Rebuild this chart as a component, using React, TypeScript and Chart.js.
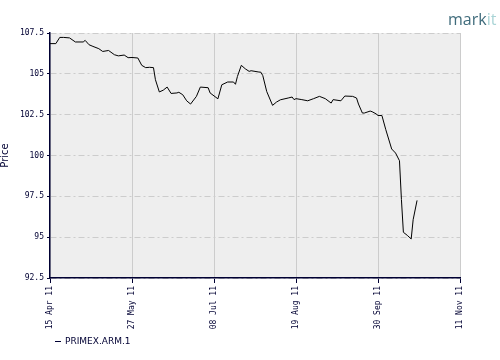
import React, { useEffect, useRef } from "react";
import { Chart, registerables } from "chart.js";

Chart.register(...registerables);

const START_DATE = "2011-04-15";
const dates = [
  "2011-04-15", "2011-04-18", "2011-04-20", "2011-04-22", "2011-04-25", "2011-04-28",
  "2011-05-02", "2011-05-03", "2011-05-05", "2011-05-07", "2011-05-10", "2011-05-12",
  "2011-05-15", "2011-05-18", "2011-05-20", "2011-05-23", "2011-05-25", "2011-05-27",
  "2011-05-30", "2011-06-01", "2011-06-03", "2011-06-05", "2011-06-07", "2011-06-08",
  "2011-06-10", "2011-06-12", "2011-06-14", "2011-06-16", "2011-06-19", "2011-06-20",
  "2011-06-22", "2011-06-24", "2011-06-26", "2011-06-29", "2011-07-01", "2011-07-05",
  "2011-07-06", "2011-07-10", "2011-07-12", "2011-07-15", "2011-07-18", "2011-07-19",
  "2011-07-20", "2011-07-22", "2011-07-24", "2011-07-26", "2011-07-27", "2011-07-31",
  "2011-08-01", "2011-08-02", "2011-08-04", "2011-08-07", "2011-08-09", "2011-08-11",
  "2011-08-15", "2011-08-17", "2011-08-18", "2011-08-19", "2011-08-22", "2011-08-25",
  "2011-08-28", "2011-08-31", "2011-09-03", "2011-09-06", "2011-09-07", "2011-09-11",
  "2011-09-13", "2011-09-17", "2011-09-19", "2011-09-20", "2011-09-22", "2011-09-23",
  "2011-09-26", "2011-09-27", "2011-09-29", "2011-09-30", "2011-10-02", "2011-10-04",
  "2011-10-07", "2011-10-09", "2011-10-11", "2011-10-12", "2011-10-13", "2011-10-15",
  "2011-10-17", "2011-10-18", "2011-10-20",
];
const prices = [
  106.85, 106.85, 107.23, 107.23, 107.2, 106.95,
  106.95, 107.05, 106.78, 106.68, 106.54, 106.37,
  106.43, 106.17, 106.1, 106.15, 105.99, 106.0,
  105.97, 105.52, 105.38, 105.4, 105.38, 104.64,
  103.89, 104.0, 104.19, 103.8, 103.83, 103.87,
  103.72, 103.35, 103.15, 103.62, 104.19, 104.15,
  103.83, 103.47, 104.33, 104.5, 104.5, 104.36,
  104.84, 105.52, 105.31, 105.15, 105.19, 105.11,
  105.1, 104.89, 103.92, 103.07, 103.27, 103.41,
  103.52, 103.58, 103.42, 103.48, 103.42, 103.35,
  103.48, 103.62, 103.48, 103.21, 103.42, 103.35,
  103.64, 103.62, 103.52, 103.15, 102.6, 102.6,
  102.72, 102.68, 102.55, 102.45, 102.45, 101.58,
  100.4, 100.15, 99.68, 97.3, 95.3, 95.11,
  94.89, 96.07, 97.25,
];
const xTickLabels = ["15 Apr 11", "27 May 11", "08 Jul 11", "19 Aug 11", "30 Sep 11", "11 Nov 11"];
const X_TICK_STEP_DAYS = 42;
const yTickValues = [92.5, 95, 97.5, 100, 102.5, 105, 107.5];
const seriesName = "PRIMEX.ARM.1";
const yTitle = "Price";

const NAVY = "#000033";
const dayOf = (d: string) => (Date.parse(d) - Date.parse(START_DATE)) / 86400000;

export default function App() {
  const ref = useRef<HTMLCanvasElement | null>(null);

  useEffect(() => {
    if (!ref.current) return;
    const points = dates.map((d, i) => ({ x: dayOf(d), y: prices[i] }));

    const decor = {
      id: "decor",
      beforeDraw(chart: any) {
        const { ctx, chartArea } = chart;
        ctx.save();
        ctx.fillStyle = "#ffffff";
        ctx.fillRect(0, 0, chart.width, chart.height);
        ctx.fillStyle = "#eeeeee";
        ctx.fillRect(chartArea.left, chartArea.top, chartArea.right - chartArea.left, chartArea.bottom - chartArea.top);
        ctx.restore();
      },
      afterDraw(chart: any) {
        const { ctx, chartArea } = chart;
        ctx.save();
        // y axis title
        ctx.translate(5, (chartArea.top + chartArea.bottom) / 2);
        ctx.rotate(-Math.PI / 2);
        ctx.fillStyle = NAVY;
        ctx.font = "10px 'DejaVu Sans'";
        ctx.textAlign = "center";
        ctx.textBaseline = "middle";
        ctx.fillText(yTitle, 0, 0);
        ctx.restore();

        // legend
        ctx.save();
        ctx.strokeStyle = NAVY;
        ctx.lineWidth = 1;
        ctx.beginPath();
        ctx.moveTo(55, 341.5);
        ctx.lineTo(61, 341.5);
        ctx.stroke();
        ctx.fillStyle = NAVY;
        ctx.font = "9px 'DejaVu Sans'";
        ctx.textAlign = "left";
        ctx.textBaseline = "middle";
        ctx.fillText(seriesName, 65, 342);
        ctx.restore();

        // logo
        ctx.save();
        ctx.font = "16px 'Open Sans'";
        ctx.textBaseline = "alphabetic";
        ctx.textAlign = "left";
        ctx.fillStyle = "#3f6b7b";
        ctx.fillText("mark", 448, 25);
        const w = ctx.measureText("mark").width;
        ctx.fillStyle = "#a9d4d6";
        ctx.fillText("it", 448 + w, 25);
        ctx.restore();
      },
    };

    const chart = new Chart(ref.current, {
      type: "line",
      data: {
        datasets: [
          {
            label: seriesName,
            data: points,
            borderColor: "#000000",
            borderWidth: 1,
            pointRadius: 0,
            tension: 0,
            fill: false,
          },
        ],
      },
      options: {
        animation: false,
        responsive: false,
        maintainAspectRatio: false,
        layout: { padding: { left: 0, top: 33, right: 40, bottom: 0 } },
        plugins: { legend: { display: false }, tooltip: { enabled: false } },
        scales: {
          x: {
            type: "linear",
            min: 0,
            max: X_TICK_STEP_DAYS * (xTickLabels.length - 1),
            afterFit: (s: any) => { s.height = 82; },
            afterBuildTicks: (s: any) => {
              s.ticks = xTickLabels.map((_, i) => ({ value: i * X_TICK_STEP_DAYS }));
            },
            ticks: {
              minRotation: 90,
              maxRotation: 90,
              autoSkip: false,
              padding: 3,
              color: NAVY,
              font: { family: "'DejaVu Sans Mono'", size: 8 },
              callback: (_v: any, i: number) => xTickLabels[i],
            },
            grid: { color: "#cccccc", lineWidth: 1, tickLength: 5, tickColor: NAVY },
            border: { color: NAVY, width: 1.5 },
          },
          y: {
            min: yTickValues[0],
            max: yTickValues[yTickValues.length - 1],
            afterFit: (s: any) => { s.width = 50; },
            afterBuildTicks: (s: any) => {
              s.ticks = yTickValues.map((v) => ({ value: v }));
            },
            ticks: {
              padding: 3,
              color: NAVY,
              font: { family: "'DejaVu Sans Mono'", size: 8 },
              callback: (v: any) => String(v),
            },
            grid: { color: "#cccccc", lineWidth: 1, tickLength: 3, tickColor: NAVY },
            border: { color: NAVY, width: 1.5, dash: [6, 3, 2, 3] },
          },
        },
      },
      plugins: [decor],
    } as any);
    return () => chart.destroy();
  }, []);

  return (
    <div style={{ position: "absolute", left: 0, top: 0, width: 500, height: 360 }}>
      <canvas ref={ref} width={500} height={360} style={{ width: 500, height: 360, display: "block" }} />
    </div>
  );
}
